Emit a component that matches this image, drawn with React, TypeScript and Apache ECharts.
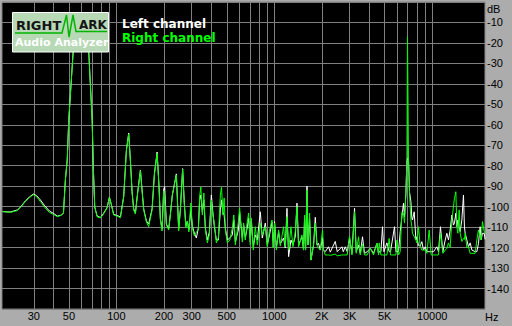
import React, { useEffect, useRef } from 'react';
import * as echarts from 'echarts';

// Frequency bins (Hz) and levels (dB)
const freqHz = [
  19.0, 21.3, 23.6, 24.7, 26.5, 28.1, 29.8, 31.2, 33.0, 35.0, 37.6, 39.9, 42.3, 44.9, 46.2, 47.5, 48.8, 49.9,
  53.2, 55.8, 58.3, 60.9, 63.6, 66.8, 70.2, 71.5, 72.9, 75.5, 79.2, 82.8, 87.3, 90.3, 93.0, 96.1, 101.0, 106.0,
  111.2, 115.7, 119.6, 122.6, 125.7, 128.7, 131.9, 136.4, 141.9, 146.1, 148.9, 154.9, 160.1, 168.2, 174.0, 181.0,
  185.8, 189.9, 194.6, 199.3, 202.2, 207.3, 214.3, 219.7, 226.1, 239.7, 247.9, 254.1, 262.7, 269.4, 275.4, 281.4,
  287.7, 296.2, 302.7, 311.7, 320.9, 330.4, 336.7, 342.6, 350.2, 357.9, 365.9, 376.7, 387.9, 399.3, 408.1, 415.9,
  429.5, 442.2, 455.3, 463.3, 472.2, 481.2, 489.7, 504.1, 522.9, 542.3, 554.3, 566.6, 591.9, 603.1, 618.2, 627.3,
  639.3, 655.4, 669.8, 687.6, 704.8, 715.2, 736.3, 758.1, 780.6, 815.5, 839.6, 877.0, 903.1, 929.8, 966.9, 985.5,
  1004, 1030, 1065, 1091, 1145, 1174, 1203, 1232, 1275, 1313, 1358, 1392, 1425, 1497, 1532, 1555, 1578, 1611,
  1634, 1673, 1707, 1773, 1818, 1864, 1907, 1955, 2021, 2051, 2102, 2207, 2262, 2433, 2504, 2682, 2734, 2815,
  2897, 2997, 3103, 3223, 3304, 3416, 3502, 3621, 3728, 3878, 4052, 4251, 4467, 4572, 4618, 4735, 4846, 4947,
  5168, 5344, 5446, 5774, 5892, 5978, 6119, 6273, 6430, 6582, 6678, 6816, 6917, 6978, 7079, 7184, 7332, 7437,
  7505, 7693, 7886, 8002, 8190, 8395, 8604, 8810, 9031, 9258, 9572, 9856, 10190, 10708, 10961, 11286, 11688,
  12090, 12390, 12684, 13000, 13330, 13640, 13840, 14125, 14330, 14545, 14825, 15040, 15420, 15783, 16010,
  16180, 16580, 16970, 17400, 17840, 18715, 19180, 19635, 20130, 20420, 20820, 21340, 21650,
];

const leftDb = [
  -102.4, -102.6, -101.6, -100.2, -97.2, -95.3, -93.8, -94.6, -96.7, -99.4, -102.1, -103.3, -104.6, -104.1, -103.1, -87.0, -77.2, -57.7,
  -24.4, -12.0, -7.5, -7.5, -13.5, -24.4, -57.7, -82.1, -100.2, -104.6, -105.3, -103.3, -100.4, -95.3, -99.2, -103.8, -104.3, -105.0,
  -95.0, -72.3, -64.0, -77.2, -92.8, -101.1, -103.1, -92.8, -82.1, -93.8, -101.1, -107.0, -108.5, -101.1, -84.0, -73.3,
  -88.9, -106.0, -110.9, -91.4, -90.2, -108.5, -110.9, -103.6, -94.3, -84.0, -110.9, -101.6, -81.4, -98.7, -109.4, -107.0,
  -111.4, -101.6, -109.4, -113.0, -115.3, -110.4, -96.7, -94.3, -102.6, -96.7, -110.4, -116.3, -112.4, -94.3, -102.6, -109.0,
  -116.3, -116.3, -101.6, -96.7, -102.6, -104.1, -110.4, -116.3, -115.3, -113.8, -106.5, -117.3, -111.4, -102.6, -110.4, -115.3,
  -109.0, -115.3, -111.4, -105.5, -117.3, -107.0, -119.7, -113.8, -116.3, -102.5, -115.3, -108.0, -118.7, -114.3, -107.5, -119.7,
  -107.3, -120.2, -112.4, -118.2, -115.3, -120.2, -100.8, -124.4, -116.3, -118.7, -114.7, -98.3, -118.7, -114.7, -121.2, -106.0, -121.2, -89.9,
  -118.7, -106.0, -126.1, -118.7, -105.2, -118.7, -117.9, -121.2, -115.3, -121.2, -122.0, -119.6, -122.2, -117.0, -122.0, -119.6, -122.0, -119.6,
  -122.0, -115.3, -122.8, -100.8, -122.0, -118.7, -122.8, -114.7, -122.8, -122.0, -120.3, -122.8, -117.9, -122.8, -122.0, -122.0, -109.8, -122.0,
  -117.7, -122.0, -122.0, -109.8, -122.0, -122.0, -122.0, -112.2, -104.9, -98.3, -105.0, -93.5, -77.7, -76.4, -76.4, -92.8, -97.5, -106.0,
  -106.5, -102.5, -116.3, -114.7, -119.0, -119.2, -117.1, -121.2, -119.6, -122.0, -122.0, -122.0, -122.0, -119.6, -122.0, -109.8, -122.0,
  -116.3, -113.0, -116.3, -111.4, -104.1, -109.0, -108.0, -103.2, -109.8, -106.5, -110.0, -112.2, -106.5, -94.3, -110.0,
  -113.0, -116.3, -119.6, -117.7, -121.2, -122.0, -122.0, -118.0, -109.8, -116.3, -113.0, -113.0, -116.0,
];

const rightDb = [
  -102.4, -102.8, -101.9, -100.4, -97.5, -95.6, -94.1, -95.1, -97.5, -100.2, -102.8, -103.8, -104.9, -104.1, -103.1, -87.0, -77.2, -57.7,
  -24.4, -12.0, -7.5, -7.5, -13.5, -24.4, -57.7, -82.1, -100.2, -105.0, -105.5, -103.6, -100.6, -95.6, -99.2, -104.1, -104.6, -105.4,
  -95.3, -72.3, -64.5, -77.2, -93.3, -101.6, -103.6, -93.3, -82.4, -94.3, -101.6, -107.5, -109.8, -101.6, -84.5, -73.9,
  -89.4, -106.5, -111.9, -92.3, -95.3, -109.0, -111.4, -104.1, -94.3, -84.5, -111.9, -101.6, -81.7, -99.2, -110.4, -107.0,
  -112.4, -98.2, -110.4, -114.3, -112.4, -111.4, -94.8, -90.4, -104.1, -93.3, -111.4, -117.7, -113.8, -96.7, -104.1, -107.5,
  -117.7, -115.3, -94.3, -90.4, -104.1, -95.8, -111.4, -117.7, -116.3, -110.4, -104.1, -118.7, -107.5, -100.6, -111.4, -117.3,
  -108.0, -116.3, -108.9, -103.1, -118.7, -105.5, -121.2, -109.8, -118.7, -108.0, -113.8, -109.8, -119.6, -112.2, -106.5, -120.2,
  -108.1, -121.2, -111.4, -119.2, -109.8, -119.6, -104.9, -121.2, -109.8, -119.6, -112.2, -100.0, -119.6, -113.8, -121.2, -104.1, -121.2, -91.9,
  -118.7, -103.1, -126.1, -118.7, -108.1, -118.7, -120.2, -121.2, -111.4, -121.2, -123.6, -123.6, -123.8, -123.2, -124.0, -123.6, -123.6, -123.6,
  -123.6, -114.3, -123.6, -102.5, -122.8, -114.7, -123.6, -118.2, -123.6, -123.6, -120.3, -123.6, -117.9, -123.6, -117.7, -123.6, -123.6, -123.6,
  -123.6, -115.5, -123.6, -123.6, -123.6, -116.3, -123.6, -122.0, -102.5, -103.2, -108.0, -93.5, -77.2, -17.0, -76.4, -93.5, -106.5, -109.8,
  -113.0, -114.7, -116.3, -117.7, -109.8, -119.2, -121.2, -121.2, -121.2, -122.8, -111.4, -123.6, -123.6, -123.6, -123.6, -113.0, -122.8,
  -121.2, -120.3, -117.7, -120.0, -106.5, -100.0, -95.9, -92.7, -109.8, -113.0, -101.6, -113.0, -117.0, -115.5, -116.0,
  -113.0, -120.0, -119.6, -122.8, -122.8, -122.8, -116.3, -111.4, -114.7, -116.3, -107.3, -112.0, -113.0,
];

// Axis ranges, grid lines and tick labels
const freqMin = 18.85;
const freqMax = 21600;
const gridFreqs = [30, 40, 50, 60, 70, 80, 90, 100, 200, 300, 400, 500, 600, 700, 800, 900,
  1000, 2000, 3000, 4000, 5000, 6000, 7000, 8000, 9000, 10000];
const labelFreqs = [30, 50, 100, 200, 300, 500, 1000, 2000, 3000, 5000, 10000];
const labelTexts = ['30', '50', '100', '200', '300', '500', '1000', '2K', '3K', '5K', '10000'];
const dbMin = -150;
const dbMax = 0;
const dbStep = 10;

const seriesNames = ['Left channel', 'Right channel'];
const seriesColors = ['#ffffff', '#00ff00'];

export default function App() {
  const ref = useRef<HTMLDivElement>(null);
  useEffect(() => {
    if (!ref.current) return;
    const chart = echarts.init(ref.current, null, { renderer: 'svg' });
    const lg = (f: number) => Math.log10(f);
    const toData = (db: number[]) => freqHz.map((f, i) => [lg(f), db[i]]);
    const labelFont = '"Liberation Sans", Arial, sans-serif';
    chart.setOption({
      animation: false,
      backgroundColor: '#acacac',
      grid: {
        left: 2, top: 2, width: 483, height: 307, show: true,
        backgroundColor: '#000000', borderColor: '#808080', borderWidth: 1,
      },
      xAxis: {
        type: 'value',
        min: lg(freqMin),
        max: lg(freqMax),
        axisLine: { show: false },
        axisTick: { show: false, customValues: gridFreqs.map(lg) },
        splitLine: { show: true, lineStyle: { color: '#808080', width: 1 } },
        axisLabel: {
          customValues: labelFreqs.map(lg),
          formatter: (v: number) => {
            const i = labelFreqs.findIndex((f) => Math.abs(lg(f) - v) < 1e-6);
            return i >= 0 ? labelTexts[i] : '';
          },
          color: '#000000', fontFamily: labelFont, fontSize: 11, margin: 1,
        },
      },
      yAxis: {
        type: 'value',
        position: 'right',
        min: dbMin, max: dbMax, interval: dbStep,
        axisLine: { show: false },
        axisTick: { show: false },
        splitLine: { show: true, lineStyle: { color: '#808080', width: 1 } },
        axisLabel: {
          formatter: (v: number) => (v === dbMax || v === dbMin ? '' : String(v)),
          color: '#000000', fontFamily: labelFont, fontSize: 11, margin: 2,
        },
      },
      legend: {
        orient: 'vertical', left: 112, top: 13, itemWidth: 0, itemHeight: 0, itemGap: 2,
        icon: 'rect', selectedMode: false,
        data: seriesNames.map((n, i) => ({ name: n, textStyle: { color: seriesColors[i] } })),
        textStyle: { fontFamily: '"DejaVu Sans", sans-serif', fontWeight: 'bold', fontSize: 12 },
      },
      series: [
        {
          name: seriesNames[0], type: 'line', data: toData(leftDb), showSymbol: false, symbol: 'none',
          lineStyle: { color: seriesColors[0], width: 1 }, itemStyle: { color: seriesColors[0] }, z: 2, silent: true,
        },
        {
          name: seriesNames[1], type: 'line', data: toData(rightDb), showSymbol: false, symbol: 'none',
          lineStyle: { color: seriesColors[1], width: 1 }, itemStyle: { color: seriesColors[1] }, z: 3, silent: true,
        },
      ],
      graphic: [
        { type: 'text', x: 487, y: 3, z: 100, style: { text: 'dB', fill: '#000', font: '11px "Liberation Sans", Arial, sans-serif' } },
        { type: 'text', x: 485, y: 311, z: 100, style: { text: 'Hz', fill: '#000', font: '11px "Liberation Sans", Arial, sans-serif' } },
        { type: 'rect', z: 100, shape: { x: 12.5, y: 12.5, width: 96, height: 39.5 }, style: { fill: '#b7d9b5', stroke: '#ffffff', lineWidth: 1 } },
        { type: 'text', x: 16, y: 19, z: 101, style: { text: 'RIGHT', fill: '#151515', font: 'bold 13px "DejaVu Sans", sans-serif' } },
        { type: 'text', x: 79, y: 19, z: 101, style: { text: 'ARK', fill: '#151515', font: 'bold 12px "DejaVu Sans", sans-serif' } },
        {
          type: 'polyline', z: 101,
          shape: { points: [[15, 33], [62, 33], [64, 25], [66.5, 15], [69, 37], [73, 15], [76, 31.5], [107, 31.5]] },
          style: { stroke: '#00b400', lineWidth: 1.5, fill: null },
        },
        {
          type: 'text', x: 15, y: 36.5, z: 101,
          style: {
            text: 'Audio Analyzer', fill: '#ffffff', font: 'bold 11px "DejaVu Sans", sans-serif',
            textShadowColor: 'rgba(0,0,0,0.35)', textShadowOffsetX: 1, textShadowOffsetY: 1, textShadowBlur: 0,
          },
        },
      ],
    });
    return () => chart.dispose();
  }, []);
  return (
    <div
      ref={ref}
      style={{ position: 'fixed', left: 0, top: 0, width: 512, height: 326, background: '#acacac' }}
    />
  );
}
